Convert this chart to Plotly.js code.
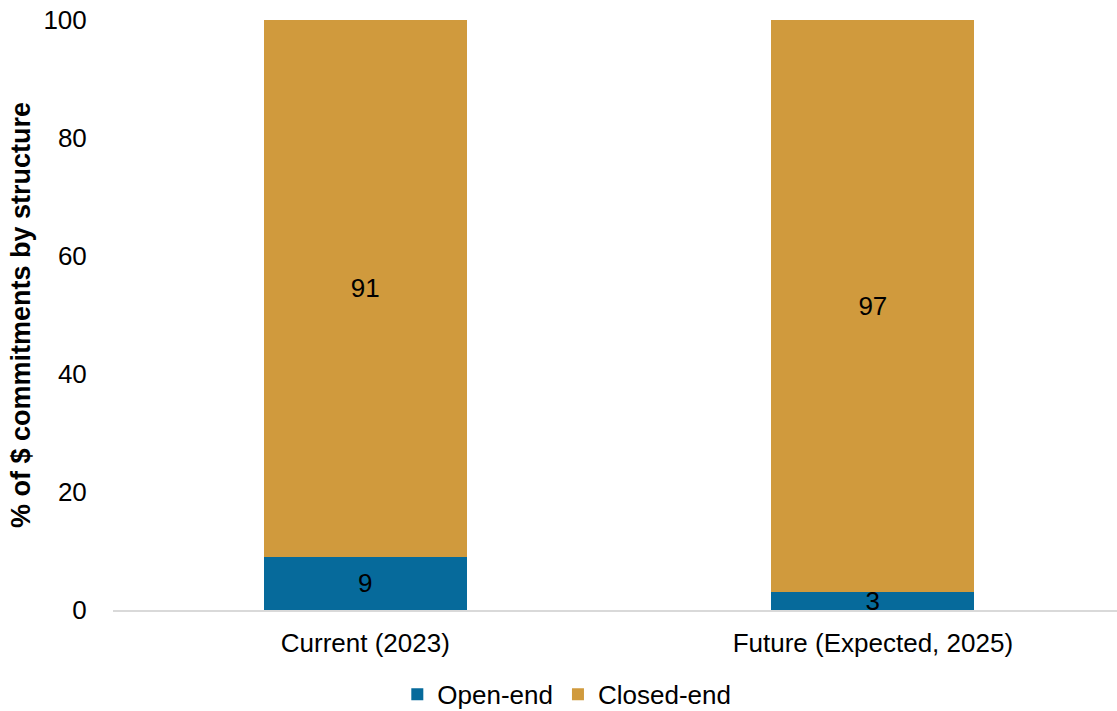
<!DOCTYPE html>
<html>
<head>
<meta charset="utf-8">
<script src="https://cdn.plot.ly/plotly-3.0.1.min.js"></script>
<style>html,body{margin:0;padding:0;background:#fff;}#chart{width:1117px;height:711px;}</style>
</head>
<body>
<div id="chart"></div>
<script>
const categories = ["Current (2023)", "Future (Expected, 2025)"];
const openEnd = [9, 3];
const closedEnd = [91, 97];
const yTicks = [0, 20, 40, 60, 80, 100];

const FS = 26;
const font = {family: "Liberation Sans, Arial, sans-serif", size: FS, color: "#000"};

const traces = [
  {
    type: "bar", name: "Open-end", x: categories, y: openEnd,
    marker: {color: "#066a9b"}, width: 0.4,
    text: openEnd.map(String), textposition: "inside", insidetextanchor: "middle",
    textangle: 0, textfont: {family: font.family, size: FS, color: "#000"}
  },
  {
    type: "bar", name: "Closed-end", x: categories, y: closedEnd,
    marker: {color: "#d09a3d"}, width: 0.4,
    text: closedEnd.map(String), textposition: "inside", insidetextanchor: "middle",
    textangle: 0, textfont: {family: font.family, size: FS, color: "#000"}
  }
];

const layout = {
  barmode: "stack",
  width: 1117, height: 711,
  margin: {l: 113, r: 0, t: 20, b: 101, autoexpand: false},
  paper_bgcolor: "#fff", plot_bgcolor: "#fff",
  font: font,
  uniformtext: {mode: "show", minsize: FS},
  xaxis: {
    range: [-0.497, 1.481],
    showline: true, linecolor: "#d9d9d9", linewidth: 2,
    ticks: "outside", ticklen: 9, tickcolor: "rgba(0,0,0,0)",
    showgrid: false, zeroline: false, automargin: false,
    tickfont: font
  },
  yaxis: {
    range: [0, 100], tickvals: yTicks, ticktext: yTicks.map(String),
    showgrid: false, zeroline: false, showline: false, automargin: false,
    ticks: "outside", ticklen: 20, tickcolor: "rgba(0,0,0,0)",
    tickfont: font,
    title: {text: "<b>% of $ commitments by structure</b>", font: {family: font.family, size: 27, color: "#000"}, standoff: 4}
  },
  legend: {
    orientation: "h", x: 0.452, xanchor: "center", y: -0.143, yanchor: "middle",
    font: font, traceorder: "normal", itemwidth: 30, tracegroupgap: 0
  },
  showlegend: true
};

Plotly.newPlot("chart", traces, layout, {displayModeBar: false, staticPlot: true});
</script>
</body>
</html>
